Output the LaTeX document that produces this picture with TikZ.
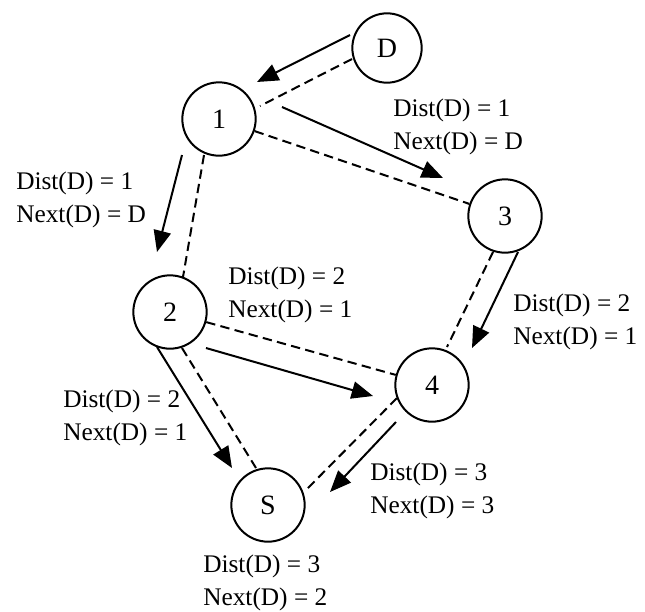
\documentclass[tikz,border=0pt]{standalone}
\usepackage{fontspec}
\setmainfont{Liberation Serif}
\usetikzlibrary{calc,arrows.meta}
\begin{document}
\begin{tikzpicture}[x=0.75pt,y=-0.75pt,
  router/.style={circle,draw,line width=1.5pt,minimum size=55pt,inner sep=0pt,
    font=\fontsize{21}{24}\selectfont},
  link/.style={line width=1.5pt,dash pattern=on 7pt off 4pt},
  route/.style={line width=1.5pt,-{Triangle[length=16pt,width=13pt]}},
  info/.style={anchor=north west,inner sep=0pt,align=left,
    font=\fontsize{19}{24.75}\selectfont}]
\useasboundingbox (0,0) rectangle (645,611);

% routers
\node[router,minimum size=52pt] (D) at (387,48) {D};
\node[router] (n1) at (219,119) {1};
\node[router] (n3) at (505,216) {3};
\node[router] (n2) at (170,312) {2};
\node[router] (n4) at (432,385) {4};
\node[router] (S)  at (268,505) {S};

% physical links
\draw[link] ($(D)+(-35,11)$) -- ($(n1)+(41,-13)$);
\draw[link] (n1) -- (n3);
\draw[link] ($(n1)+(-15,36)$) -- ($(n2)+(13,-35)$);
\draw[link] (n2) -- (n4);
\draw[link] ($(n2)+(12,36)$) -- ($(S)+(-12,-37)$);
\draw[link] ($(n3)+(-12,36)$) -- ($(n4)+(15,-38)$);
\draw[link] ($(n4)+(-35,13)$) -- ($(S)+(38,-15)$);

% route updates travelling from D
\draw[route] ($(D)+(-37,-13)$) -- ($(n1)+(38,-37)$);
\draw[route] ($(n1)+(63,-12)$) -- ($(n3)+(-62,-38)$);
\draw[route] ($(n1)+(-37,36)$) -- ($(n2)+(-13,-60)$);
\draw[route] ($(n2)+(36,36)$) -- ($(n4)+(-59,11)$);
\draw[route] ($(n2)+(-13,35)$) -- ($(S)+(-36,-37)$);
\draw[route] ($(n3)+(13,36)$) -- ($(n4)+(40,-37)$);
\draw[route] ($(n4)+(-36,37)$) -- ($(S)+(62,-13)$);

% routing table entries
\node[info] (t13) at (393,99)  {Dist(D) = 1\\Next(D) = D};
\node[info] (t12) at (16,172)  {Dist(D) = 1\\Next(D) = D};
\node[info] (t24) at (228,267) {Dist(D) = 2\\Next(D) = 1};
\node[info] (t34) at (513,294) {Dist(D) = 2\\Next(D) = 1};
\node[info] (t2S) at (63,390)  {Dist(D) = 2\\Next(D) = 1};
\node[info] (t4S) at (370,463) {Dist(D) = 3\\Next(D) = 3};
\node[info] (tS)  at (203,555) {Dist(D) = 3\\Next(D) = 2};
\end{tikzpicture}
\end{document}
